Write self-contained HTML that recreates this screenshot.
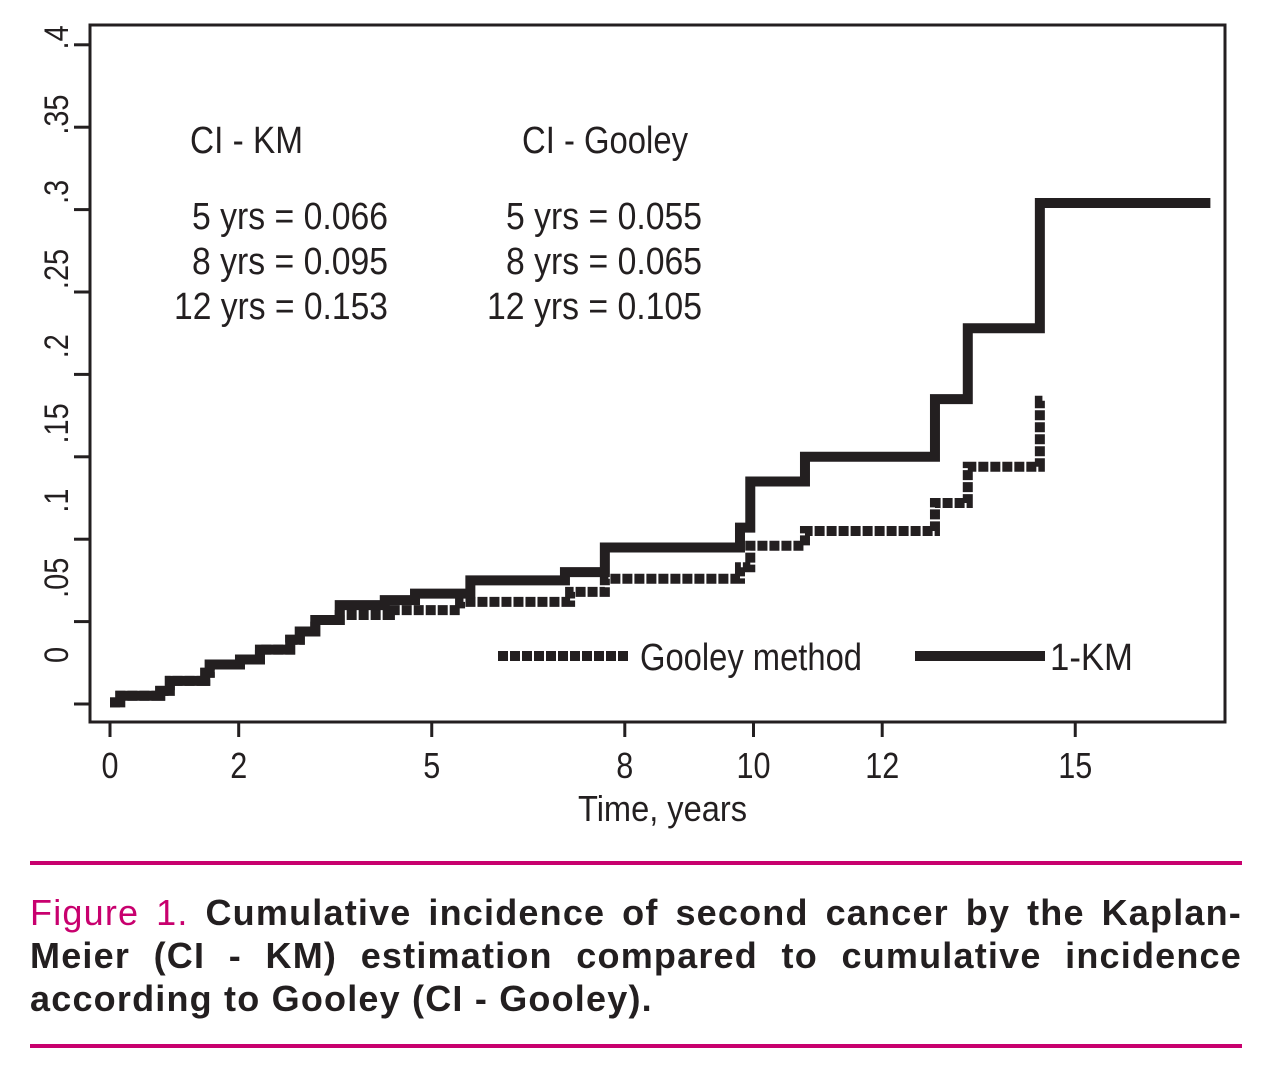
<!DOCTYPE html>
<html><head><meta charset="utf-8">
<style>
body{margin:0;width:1280px;height:1071px;background:#fff;overflow:hidden;font-family:"Liberation Sans",sans-serif;}
#chart{position:absolute;left:0;top:0;}
.rule{position:absolute;left:30px;width:1212px;height:4px;background:#c8006e;}
#caption{position:absolute;left:30px;top:891px;width:1212px;font-family:"Liberation Sans",sans-serif;font-size:36px;line-height:43px;color:#231f20;font-weight:bold;letter-spacing:1.2px;}
#caption div{text-align:justify;text-align-last:justify;white-space:nowrap;}
#caption div.last{text-align-last:left;}
#caption .fig{color:#c8006e;font-weight:normal;}
</style></head><body>
<svg id="chart" width="1280" height="860" font-family="'Liberation Sans',sans-serif" fill="#231f20"></svg>
<div class="rule" style="top:861px"></div>
<div id="caption">
<div><span class="fig">Figure 1.</span> Cumulative incidence of second cancer by the Kaplan-</div>
<div>Meier (CI - KM) estimation compared to cumulative incidence</div>
<div class="last">according to Gooley (CI - Gooley).</div>
</div>
<div class="rule" style="top:1044px"></div>
<script>
const kmTimes=[0,0.16,0.78,0.93,1.48,1.55,2.02,2.33,2.8,2.95,3.19,3.57,4.27,4.74,5.6,7.07,7.69,9.79,9.95,10.8,12.82,13.33,14.45];
const kmValues=[0.001,0.005,0.008,0.014,0.019,0.024,0.027,0.033,0.039,0.044,0.051,0.06,0.063,0.067,0.075,0.08,0.095,0.107,0.135,0.15,0.185,0.228,0.304];
const kmEnd=17.1;
const gooleyTimes=[0,0.16,0.78,0.93,1.48,1.55,2.02,2.33,2.8,2.95,3.19,3.57,4.35,5.44,7.15,7.69,9.79,9.95,10.8,12.82,13.33,14.45];
const gooleyValues=[0.001,0.005,0.008,0.014,0.019,0.024,0.027,0.033,0.039,0.044,0.051,0.054,0.057,0.062,0.068,0.076,0.083,0.096,0.105,0.122,0.144,0.184];
const gooleyEnd=14.5;
const xTicks=[0,2,5,8,10,12,15];
const yTicks=[0,0.05,0.1,0.15,0.2,0.25,0.3,0.35,0.4];
const yTickLabels=["0",".05",".1",".15",".2",".25",".3",".35",".4"];

const NS="http://www.w3.org/2000/svg";
const svg=document.getElementById('chart');
const X=t=>110+t*64.35;
const Y=v=>704-v*1648;
function mk(tag,attrs,parent){const e=document.createElementNS(NS,tag);for(const k in attrs)e.setAttribute(k,attrs[k]);(parent||svg).appendChild(e);return e;}

const frame=mk('rect',{x:90,y:25,width:1135,height:697,fill:'none',stroke:'#231f20','stroke-width':3});



yTicks.forEach((v,i)=>{
  const t=mk('line',{x1:74,x2:90,y1:Y(v),y2:Y(v),stroke:'#231f20','stroke-width':3});
  
  
  const cy=655-i*77.2;
  const l=mk('text',{x:0,y:0,'font-size':34,'text-anchor':'middle',transform:`translate(68,${cy}) rotate(-90) scale(0.85,1)`});
  l.textContent=yTickLabels[i];
  
  
});
xTicks.forEach(v=>{
  const t=mk('line',{x1:X(v),x2:X(v),y1:722,y2:737,stroke:'#231f20','stroke-width':3});
  
  
  const l=mk('text',{x:0,y:0,'font-size':36,'text-anchor':'middle',transform:`translate(${X(v)},778) scale(0.85,1)`});
  l.textContent=String(v);
  
  
});
const xt=mk('text',{x:578,y:821,'font-size':36,textLength:169,lengthAdjust:'spacingAndGlyphs'});
xt.textContent='Time, years';



function stepPath(ts,vs,end){
  let d=`M${X(ts[0])},${Y(vs[0])}`;
  for(let i=1;i<ts.length;i++){d+=` H${X(ts[i])} V${Y(vs[i])}`;}
  d+=` H${X(end)}`;return d;
}
const gp=mk('path',{d:stepPath(gooleyTimes,gooleyValues,gooleyEnd),fill:'none',stroke:'#231f20','stroke-width':10,'stroke-dasharray':'10 2'});


const kp=mk('path',{d:stepPath(kmTimes,kmValues,kmEnd),fill:'none',stroke:'#231f20','stroke-width':10});



const lg1=mk('line',{x1:498,x2:630,y1:656,y2:656,stroke:'#231f20','stroke-width':10,'stroke-dasharray':'10 2'});


const lt1=mk('text',{x:640,y:670,'font-size':38,textLength:222,lengthAdjust:'spacingAndGlyphs'});lt1.textContent='Gooley method';


const lg2=mk('line',{x1:915,x2:1045,y1:656,y2:656,stroke:'#231f20','stroke-width':10});


const lt2=mk('text',{x:1050,y:670,'font-size':38,textLength:83,lengthAdjust:'spacingAndGlyphs'});lt2.textContent='1-KM';



const ann=[
 ['CI - KM',190,153,113,'annotation-ci-km-title'],
 ['5 yrs = 0.066',192,229,196,'annotation-km-5yrs'],
 ['8 yrs = 0.095',192,274,196,'annotation-km-8yrs'],
 ['12 yrs = 0.153',174,319,214,'annotation-km-12yrs'],
 ['CI - Gooley',522,153,166,'annotation-ci-gooley-title'],
 ['5 yrs = 0.055',506,229,196,'annotation-gooley-5yrs'],
 ['8 yrs = 0.065',506,274,196,'annotation-gooley-8yrs'],
 ['12 yrs = 0.105',487,319,215,'annotation-gooley-12yrs']];
ann.forEach(a=>{
  const t=mk('text',{x:a[1],y:a[2],'font-size':38,textLength:a[3],lengthAdjust:'spacingAndGlyphs'});
  t.textContent=a[0];
  
  
});
</script>
</body></html>
